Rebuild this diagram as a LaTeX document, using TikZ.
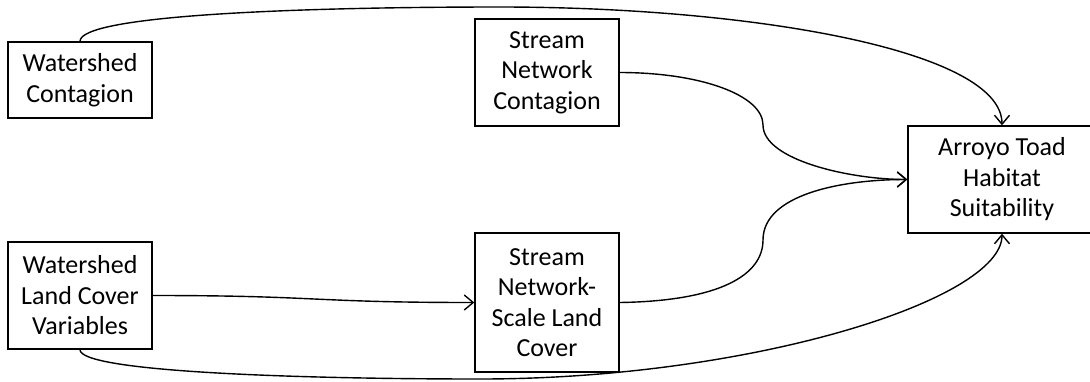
\documentclass[tikz,border=0pt]{standalone}
\usepackage{fontspec}
\setmainfont{Carlito}
\usetikzlibrary{arrows.meta}
\begin{document}
\begin{tikzpicture}[x=1pt,y=-1pt,
  box/.style={draw,line width=1.4pt,inner sep=0pt,align=center,
    font=\fontsize{26}{30.5}\selectfont,minimum width=144pt},
  conn/.style={line width=1.4pt,-{Straight Barb[length=9pt,width=15pt,line width=1.4pt]}}]
\clip (0,0) rectangle (1090,381);
\node[box,minimum height=76pt] (wc) at (80,80) {Watershed\\Contagion};
\node[box,minimum height=107pt] (snc) at (547,72.5) {Stream\\Network\\Contagion};
\node[box,minimum height=107pt,minimum width=188pt] (ats) at (1002,179.5) {Arroyo Toad\\Habitat\\Suitability};
\node[box,minimum height=107pt] (wlcv) at (80,295.5) {Watershed\\Land Cover\\Variables};
\node[box,minimum height=139pt] (snslc) at (547,302.5) {Stream\\Network-\\Scale Land\\Cover};
\coordinate (toppeak) at (500,7);
\coordinate (botlow) at (480,379);
\coordinate (inflA) at (763,125);
\coordinate (inflB) at (763,240);
\draw[conn] (wc.north) .. controls (80,15) and (300,7) .. (toppeak)
  .. controls (750,7) and (1002,50) .. (ats.north);
\draw[conn] (wlcv.south) .. controls (80,372) and (300,379) .. (botlow)
  .. controls (750,379) and (1002,300) .. (ats.south);
\draw[conn] (snc.east) .. controls (700,72.5) and (763,95) .. (inflA)
  .. controls (763,160) and (850,179.5) .. (ats.west);
\draw[conn] (snslc.east) .. controls (720,301) and (763,275) .. (inflB)
  .. controls (763,195) and (840,179.5) .. (ats.west);
\draw[conn] (wlcv.east) .. controls (320,295.5) and (310,302.5) .. (snslc.west);
\end{tikzpicture}
\end{document}
